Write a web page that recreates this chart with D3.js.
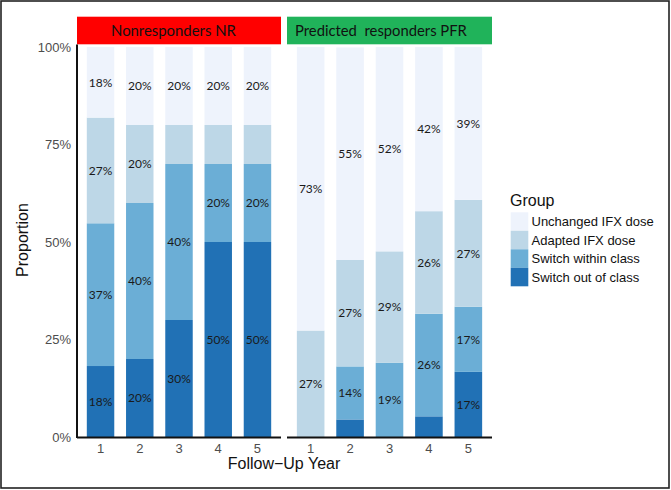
<!DOCTYPE html>
<html><head><meta charset="utf-8">
<script src="https://cdn.jsdelivr.net/npm/d3@7"></script>
<style>html,body{margin:0;padding:0;background:#fff;}</style>
</head><body>
<svg id="chart" width="671" height="490"></svg>
<script>
// ---- data ----
const years = ["1", "2", "3", "4", "5"];
const groups = ["Unchanged IFX dose", "Adapted IFX dose", "Switch within class", "Switch out of class"];
const panelTitles = ["Nonresponders NR", "Predicted  responders PFR"];
const yTicks = [0, 0.25, 0.5, 0.75, 1];
// values in percent, per panel and group (years 1..5)
const nrSwitchOut    = [18.2, 20, 30, 50, 50];
const nrSwitchWithin = [36.6, 40, 40, 20, 20];
const nrAdapted      = [27.1, 20, 10, 10, 10];
const nrUnchanged    = [18.1, 20, 20, 20, 20];
const pfrSwitchOut    = [0, 4.5, 0, 5.3, 16.7];
const pfrSwitchWithin = [0, 13.6, 19.0, 26.3, 16.7];
const pfrAdapted      = [27.3, 27.3, 28.6, 26.3, 27.4];
const pfrUnchanged    = [72.7, 54.5, 52.4, 42.1, 39.2];

const colors = ["#eef3fc", "#bdd7e7", "#6baed6", "#2171b5"];

const panelData = [
  {"Unchanged IFX dose": nrUnchanged, "Adapted IFX dose": nrAdapted, "Switch within class": nrSwitchWithin, "Switch out of class": nrSwitchOut},
  {"Unchanged IFX dose": pfrUnchanged, "Adapted IFX dose": pfrAdapted, "Switch within class": pfrSwitchWithin, "Switch out of class": pfrSwitchOut}
];

// ---- layout ----
const svg = d3.select("#chart");
svg.append("rect").attr("x", 0).attr("y", 0).attr("width", 671).attr("height", 490).attr("fill", "#fff");
svg.append("rect").attr("x", 1).attr("y", 1).attr("width", 668).attr("height", 487)
  .attr("fill", "none").attr("stroke", "#222").attr("stroke-width", 1.6);

const calFont = "Lato, 'Open Sans', sans-serif";
function fitSize(sample, target, base) {
  const t = svg.append("text").attr("font-family", calFont).attr("font-size", base)
    .style("white-space", "pre").text(sample);
  const w = t.node().getComputedTextLength();
  t.remove();
  return w > 0 ? base * target / w : base;
}
const labelSize = fitSize("73%", 23.5, 12.5);
const stripSizes = [fitSize(panelTitles[0], 125, 15), fitSize(panelTitles[1], 172, 15)];

const panelTop = 44.5, panelBottom = 438;
const panels = [{x0: 77, x1: 281, fill: "#ff0000", tx: 34}, {x0: 287, x1: 492, fill: "#20b35a", tx: 8}];
const y = d3.scaleLinear().domain([0, 1]).range([437, 47]);
const color = d3.scaleOrdinal().domain(groups).range(colors);
const stackOrder = groups.slice().reverse(); // bottom first

panels.forEach((p, pi) => {
  const x = d3.scaleBand().domain(years).range([p.x0, p.x1]).paddingInner(0.3).paddingOuter(0.25);
  const rows = years.map((yr, i) => {
    const r = {year: yr};
    groups.forEach(g => r[g] = panelData[pi][g][i] / 100);
    return r;
  });
  const series = d3.stack().keys(stackOrder)(rows);
  const g = svg.append("g");
  series.forEach(s => {
    g.selectAll(null).data(s).join("rect")
      .attr("x", d => x(d.data.year))
      .attr("width", x.bandwidth())
      .attr("y", d => y(d[1]))
      .attr("height", d => Math.max(0, y(d[0]) - y(d[1])))
      .attr("fill", color(s.key));
  });
  series.forEach(s => {
    g.selectAll(null).data(s.filter(d => d[1] - d[0] >= 0.1)).join("text")
      .attr("x", d => x(d.data.year) + x.bandwidth() / 2)
      .attr("y", d => y((d[0] + d[1]) / 2))
      .attr("dy", "0.36em")
      .attr("text-anchor", "middle")
      .attr("font-family", calFont)
      .attr("font-size", labelSize)
      .attr("fill", "#1a1a1a")
      .text(d => Math.round((d[1] - d[0]) * 100) + "%");
  });
  // x axis
  const xa = svg.append("g").attr("transform", `translate(0,${437.5})`)
    .call(d3.axisBottom(x).tickSize(0).tickPadding(6));
  xa.select(".domain").remove();
  xa.selectAll("text").attr("font-family", "Arial, 'Liberation Sans', sans-serif")
    .attr("font-size", 13).attr("fill", "#4d4d4d");
  svg.append("line").attr("x1", p.x0).attr("x2", p.x1).attr("y1", 437.5).attr("y2", 437.5)
    .attr("stroke", "#111").attr("stroke-width", 2);
  // strip
  svg.append("rect").attr("x", p.x0).attr("y", 16.7).attr("width", p.x1 - p.x0).attr("height", 27.6)
    .attr("fill", p.fill);
  svg.append("text").attr("x", p.x0 + p.tx).attr("y", 35.8)
    .attr("font-family", calFont).attr("font-size", stripSizes[pi])
    .attr("fill", "#111").style("white-space", "pre").text(panelTitles[pi]);
});

// y axis
const ya = svg.append("g").attr("transform", "translate(77,0)")
  .call(d3.axisLeft(y).tickValues(yTicks).tickFormat(d3.format(".0%")).tickSize(0).tickPadding(6));
ya.select(".domain").remove();
ya.selectAll("text").attr("font-family", "Arial, 'Liberation Sans', sans-serif")
  .attr("font-size", 13).attr("fill", "#4d4d4d");
svg.append("line").attr("x1", 77).attr("x2", 77).attr("y1", panelTop).attr("y2", panelBottom)
  .attr("stroke", "#111").attr("stroke-width", 2);

// axis titles
svg.append("text").attr("x", 284).attr("y", 469).attr("text-anchor", "middle")
  .attr("font-family", "Arial, 'Liberation Sans', sans-serif").attr("font-size", 16).attr("fill", "#111")
  .text("Follow\u2212Up Year");
svg.append("text").attr("transform", "translate(28,240) rotate(-90)").attr("text-anchor", "middle")
  .attr("font-family", "Arial, 'Liberation Sans', sans-serif").attr("font-size", 16).attr("fill", "#111")
  .text("Proportion");

// legend
const lg = svg.append("g").attr("transform", "translate(510,0)");
lg.append("text").attr("x", 0).attr("y", 205.5)
  .attr("font-family", "Arial, 'Liberation Sans', sans-serif").attr("font-size", 16).attr("fill", "#111")
  .text("Group");
groups.forEach((gname, i) => {
  const ky = 212.3 + i * 18.5;
  lg.append("rect").attr("x", 0.7).attr("y", ky).attr("width", 17.6).attr("height", 18.5).attr("fill", color(gname));
  lg.append("text").attr("x", 21.5).attr("y", ky + 9.25).attr("dy", "0.36em")
    .attr("font-family", "Arial, 'Liberation Sans', sans-serif").attr("font-size", 13).attr("fill", "#111")
    .text(gname);
});
</script>
</body></html>
